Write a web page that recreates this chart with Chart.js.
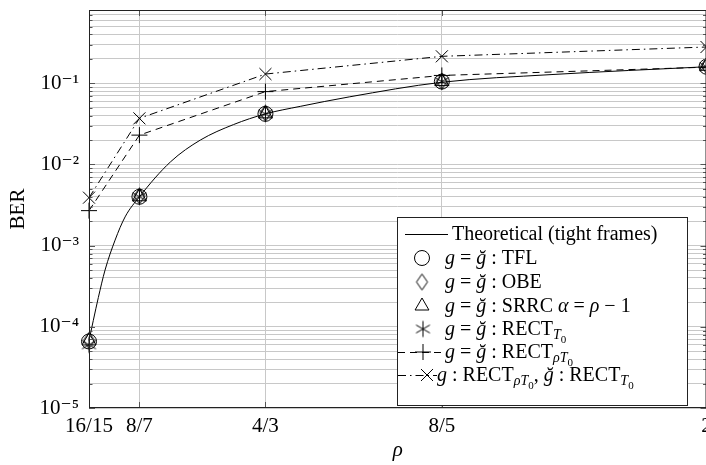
<!DOCTYPE html>
<html>
<head>
<meta charset="utf-8">
<script src="https://cdn.jsdelivr.net/npm/chart.js@4.4.0/dist/chart.umd.min.js"></script>
<style>
  html, body { margin: 0; padding: 0; background: #fff; overflow: hidden; }
  #wrap { width: 706px; height: 465px; overflow: hidden; }
  #ber { display: block; }
</style>
</head>
<body>
<div id="wrap"><canvas id="ber" width="716" height="465"></canvas></div>
<script>
// oversampling factors on the x axis
const rhoTicks = [16 / 15, 8 / 7, 4 / 3, 8 / 5, 2];
const rhoLabels = ['16/15', '8/7', '4/3', '8/5', '2'];

// decades on the BER axis
const berDecades = [1e-5, 1e-4, 1e-3, 1e-2, 1e-1];
const berLabels = ['10⁻⁵', '10⁻⁴', '10⁻³', '10⁻²', '10⁻¹'];
const berMin = 1e-5;
const berMax = 0.8;

// theoretical curve (tight frames)
const theoryRho = [1.0667, 1.0732, 1.0808, 1.0909, 1.1061, 1.1212, 1.1429, 1.19, 1.235, 1.285, 1.3333, 1.386, 1.46, 1.6, 1.765, 2.0];
const theoryBer = [6.8e-5, 1.2e-4, 2.3e-4, 5.0e-4, 1.17e-3, 2.26e-3, 4.0e-3, 1.08e-2, 2.0e-2, 3.1e-2, 4.2e-2, 5.2e-2, 6.8e-2, 0.103, 0.128, 0.16];

// simulated BER at each rho tick
const berTFL = [6.6e-5, 4.0e-3, 0.042, 0.105, 0.160];
const berOBE = [6.8e-5, 4.1e-3, 0.043, 0.106, 0.165];
const berSRRC = [6.7e-5, 4.0e-3, 0.042, 0.105, 0.162];
const berRectT0 = [6.0e-5, 4.0e-3, 0.042, 0.105, 0.160];
const berRectRhoT0 = [2.7e-3, 0.023, 0.079, 0.125, 0.158];
const berMixed = [3.9e-3, 0.037, 0.130, 0.215, 0.280];

const seriesNames = [
  'Theoretical (tight frames)',
  'g = ğ : TFL',
  'g = ğ : OBE',
  'g = ğ : SRRC α = ρ − 1',
  'g = ğ : RECT_T0',
  'g = ğ : RECT_ρT0',
  'g : RECT_ρT0, ğ : RECT_T0'
];

// legend text as styled runs (it = italic, lv = subscript level)
const gEq = [{ t: 'g', it: 1 }, { t: ' = ' }, { t: 'ğ', it: 1 }, { t: ' : ' }];
const legendText = [
  [{ t: 'Theoretical (tight frames)' }],
  gEq.concat([{ t: 'TFL' }]),
  gEq.concat([{ t: 'OBE' }]),
  gEq.concat([{ t: 'SRRC ' }, { t: 'α', it: 1 }, { t: ' = ' }, { t: 'ρ', it: 1 }, { t: ' − 1' }]),
  gEq.concat([{ t: 'RECT' }, { t: 'T', it: 1, lv: 1 }, { t: '0', lv: 2 }]),
  gEq.concat([{ t: 'RECT' }, { t: 'ρT', it: 1, lv: 1 }, { t: '0', lv: 2 }]),
  [{ t: 'g', it: 1 }, { t: ' : RECT' }, { t: 'ρT', it: 1, lv: 1 }, { t: '0', lv: 2 }, { t: ', ' },
   { t: 'ğ', it: 1 }, { t: ' : RECT' }, { t: 'T', it: 1, lv: 1 }, { t: '0', lv: 2 }]
];

const SERIF = '"Liberation Serif", "DejaVu Serif", serif';

function pts(xs, ys) {
  return xs.map((x, i) => ({ x: x, y: ys[i] }));
}

// pgfplots-like marks that Chart.js has no built-in style for
function markCanvas(draw, size) {
  const c = document.createElement('canvas');
  c.width = size;
  c.height = size;
  const g = c.getContext('2d');
  g.strokeStyle = '#000';
  g.lineWidth = 1;
  g.translate(size / 2, size / 2);
  draw(g);
  return c;
}

const diamondMark = markCanvas(g => {
  g.beginPath();
  g.moveTo(0, -8); g.lineTo(5.5, 0); g.lineTo(0, 8); g.lineTo(-5.5, 0);
  g.closePath();
  g.stroke();
}, 19);

const asteriskMark = markCanvas(g => {
  const r = 8;
  g.beginPath();
  [90, 30, -30].forEach(a => {
    const t = a * Math.PI / 180;
    g.moveTo(-r * Math.cos(t), -r * Math.sin(t));
    g.lineTo(r * Math.cos(t), r * Math.sin(t));
  });
  g.stroke();
}, 19);

const common = {
  borderColor: '#000',
  backgroundColor: 'rgba(0,0,0,0)',
  pointBorderColor: '#000',
  pointBackgroundColor: 'rgba(0,0,0,0)',
  borderWidth: 1,
  pointBorderWidth: 1,
  pointHoverRadius: 0,
  clip: false
};

const datasets = [
  { data: pts(theoryRho, theoryBer), showLine: true, pointRadius: 0, cubicInterpolationMode: 'monotone' },
  { data: pts(rhoTicks, berTFL), showLine: false, pointStyle: 'circle', pointRadius: 7.5 },
  { data: pts(rhoTicks, berOBE), showLine: false, pointStyle: diamondMark, pointRadius: 8 },
  { data: pts(rhoTicks, berSRRC), showLine: false, pointStyle: 'triangle', pointRadius: 8 },
  { data: pts(rhoTicks, berRectT0), showLine: false, pointStyle: asteriskMark, pointRadius: 8 },
  { data: pts(rhoTicks, berRectRhoT0), showLine: true, borderDash: [7, 5], pointStyle: 'cross', pointRadius: 8 },
  { data: pts(rhoTicks, berMixed), showLine: true, borderDash: [8, 4, 1.5, 4], pointStyle: 'crossRot', pointRadius: 8.5 }
].map((d, i) => Object.assign({ label: seriesNames[i] }, common, d));

// legend row placement
const legendBox = { x: 397, y: 217, w: 290, h: 188 };
const legendRows = [
  { y: 234, textX: 452, markX: 426, from: 405, to: 448 },
  { y: 258, textX: 445, markX: 422 },
  { y: 282, textX: 445, markX: 422 },
  { y: 306, textX: 445, markX: 422 },
  { y: 329, textX: 445, markX: 423 },
  { y: 352, textX: 445, markX: 423, from: 398, to: 441 },
  { y: 375, textX: 437, markX: 427, from: 398, to: 437 }
];

function drawRuns(ctx, x, y, runs) {
  runs.forEach(r => {
    const size = r.lv === 2 ? 11 : r.lv === 1 ? 14 : 20;
    const dy = r.lv === 2 ? 8 : r.lv === 1 ? 4 : 0;
    ctx.font = (r.it ? 'italic ' : '') + size + 'px ' + SERIF;
    ctx.fillText(r.t, x, y + dy);
    x += ctx.measureText(r.t).width;
  });
}

const framePlugin = {
  id: 'frameAndLegend',
  afterDraw(chart) {
    const ctx = chart.ctx;
    const a = chart.chartArea;
    const xs = chart.scales.x;
    const ys = chart.scales.y;
    ctx.save();

    // inner tick marks on all four sides
    ctx.strokeStyle = '#555';
    ctx.lineWidth = 1;
    ctx.beginPath();
    ys.ticks.forEach(t => {
      const py = Math.round(ys.getPixelForValue(t.value)) + 0.5;
      const len = berDecades.some(d => Math.abs(t.value / d - 1) < 1e-6) ? 6 : 3.5;
      ctx.moveTo(a.left, py); ctx.lineTo(a.left + len, py);
      ctx.moveTo(a.right, py); ctx.lineTo(a.right - len, py);
    });
    xs.ticks.forEach(t => {
      const px = Math.round(xs.getPixelForValue(t.value)) + 0.5;
      ctx.moveTo(px, a.bottom); ctx.lineTo(px, a.bottom - 6);
      ctx.moveTo(px, a.top); ctx.lineTo(px, a.top + 6);
    });
    ctx.stroke();

    // axis frame
    ctx.strokeStyle = '#222';
    ctx.strokeRect(a.left + 0.5, a.top + 0.5, a.right - a.left - 1, a.bottom - a.top - 1);

    // legend
    const b = legendBox;
    ctx.fillStyle = '#fff';
    ctx.fillRect(b.x, b.y, b.w, b.h);
    ctx.strokeStyle = '#222';
    ctx.strokeRect(b.x + 0.5, b.y + 0.5, b.w, b.h);

    legendRows.forEach((row, i) => {
      const ds = chart.data.datasets[i];
      ctx.strokeStyle = '#000';
      ctx.lineWidth = 1;
      if (ds.showLine) {
        const from = row.from || row.markX - 21;
        const to = row.to || row.markX + 21;
        ctx.setLineDash(ds.borderDash || []);
        ctx.beginPath();
        ctx.moveTo(from, row.y + 0.5);
        ctx.lineTo(to, row.y + 0.5);
        ctx.stroke();
        ctx.setLineDash([]);
      }
      if (ds.pointRadius > 0) {
        ctx.fillStyle = 'rgba(0,0,0,0)';
        Chart.helpers.drawPoint(ctx, {
          pointStyle: ds.pointStyle, radius: ds.pointRadius, rotation: 0, borderWidth: 1
        }, row.markX, row.y);
      }
      ctx.fillStyle = '#000';
      ctx.textBaseline = 'alphabetic';
      ctx.textAlign = 'left';
      drawRuns(ctx, row.textX, row.y + 6, legendText[i]);
    });
    ctx.restore();
  }
};

function isDecade(v) {
  return berDecades.findIndex(d => Math.abs(v / d - 1) < 1e-6);
}

new Chart(document.getElementById('ber'), {
  type: 'scatter',
  data: { datasets: datasets },
  options: {
    responsive: false,
    animation: false,
    events: [],
    layout: { padding: { left: 0, right: 2, top: 10, bottom: 0 } },
    plugins: { legend: { display: false }, tooltip: { enabled: false } },
    scales: {
      x: {
        type: 'linear',
        min: rhoTicks[0],
        max: rhoTicks[rhoTicks.length - 1],
        afterBuildTicks: s => { s.ticks = rhoTicks.map(v => ({ value: v })); },
        afterFit: s => { s.paddingLeft = 0; s.paddingRight = 0; s.height = 57; },
        ticks: {
          autoSkip: false,
          maxRotation: 0,
          padding: 6,
          color: '#000',
          font: { family: SERIF, size: 21 },
          callback: (v, i) => rhoLabels[i]
        },
        grid: { color: '#c8c8c8', lineWidth: 1, drawTicks: false },
        border: { display: false },
        title: {
          display: true,
          text: 'ρ',
          color: '#000',
          font: { family: SERIF, size: 21, style: 'italic' },
          padding: { top: 0, bottom: 2 }
        }
      },
      y: {
        type: 'logarithmic',
        min: berMin,
        max: berMax,
        afterBuildTicks: s => {
          const t = [];
          berDecades.forEach(d => {
            for (let m = 1; m <= 9; m++) {
              if (m * d <= berMax * 1.0001) t.push({ value: m * d });
            }
          });
          s.ticks = t;
        },
        afterFit: s => { s.width = 89; s.paddingTop = 0; s.paddingBottom = 0; },
        ticks: {
          autoSkip: false,
          padding: 10,
          color: '#000',
          font: { family: SERIF, size: 21 },
          callback: v => {
            const k = isDecade(v);
            return k >= 0 ? berLabels[k] : '';
          }
        },
        grid: { color: '#c8c8c8', lineWidth: 1, drawTicks: false },
        border: { display: false },
        title: {
          display: true,
          text: 'BER',
          color: '#000',
          font: { family: SERIF, size: 21 },
          padding: { top: 6, bottom: 0 }
        }
      }
    }
  },
  plugins: [framePlugin]
});
</script>
</body>
</html>
